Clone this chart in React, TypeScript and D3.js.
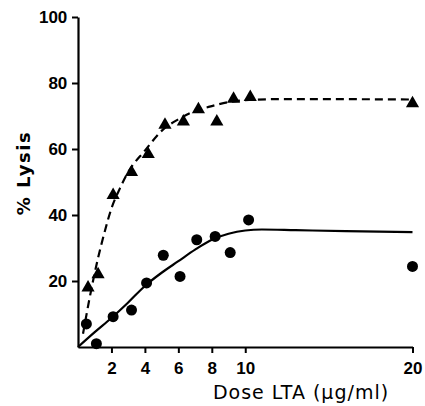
import React, { useEffect, useRef } from 'react';
import * as d3 from 'd3';

// measured points (dose in µg/ml, % lysis)
const triDose = [0.6, 1.2, 2.1, 3.2, 4.2, 5.2, 6.3, 7.2, 8.3, 9.3, 10.3, 20];
const triLysis = [18, 22, 46, 53, 58.4, 67.3, 68.3, 72, 68.3, 75.2, 75.7, 73.8];

const dotDose = [0.5, 1.1, 2.1, 3.2, 4.1, 5.1, 6.1, 7.1, 8.2, 9.1, 10.2, 20];
const dotLysis = [7, 1, 9.2, 11.2, 19.4, 27.8, 21.4, 32.5, 33.5, 28.6, 38.5, 24.4];

// fitted curves
const dashDose = [0.3, 0.7, 1.2, 1.6, 2, 2.5, 3, 4, 5, 6, 7, 8, 9, 10, 12, 15, 20];
const dashLysis = [4, 15, 27, 35, 42, 48, 53, 59.5, 65.5, 69, 71.5, 73, 74.2, 74.8, 75.1, 75.1, 75];

const solidDose = [0, 1, 2, 3, 4, 5, 6, 7, 8, 9, 10, 11, 13, 16, 20];
const solidLysis = [0, 4.5, 8.8, 13.5, 18.5, 22.5, 26, 29.5, 32.5, 34.3, 35.3, 35.6, 35.4, 35.1, 34.8];

const xTicks = [2, 4, 6, 8, 10, 20];
const yTicks = [20, 40, 60, 80, 100];

const W = 425;
const H = 406;
const FONT = 'Liberation Sans, Arial, sans-serif';
const TITLE_FONT = 'DejaVu Sans, sans-serif';

const App: React.FC = () => {
  const svgRef = useRef<SVGSVGElement>(null);

  useEffect(() => {
    if (!svgRef.current) return;
    const svg = d3.select(svgRef.current);
    svg.selectAll('*').remove();

    const x = d3.scaleLinear().domain([0, 20]).range([78, 412.5]);
    const y = d3.scaleLinear().domain([0, 100]).range([347, 17]);

    // axes
    const xAxis = svg.append('g')
      .attr('transform', `translate(0,${y(0)})`)
      .call(d3.axisBottom(x).tickValues(xTicks).tickSize(6).tickSizeOuter(0).tickFormat(d3.format('d')));
    const yAxis = svg.append('g')
      .attr('transform', `translate(${x(0)},0)`)
      .call(d3.axisLeft(y).tickValues(yTicks).tickSize(6).tickSizeOuter(0).tickFormat(d3.format('d')));

    [xAxis, yAxis].forEach(a => {
      a.select('.domain').attr('stroke', '#000').attr('stroke-width', 2.2);
      a.selectAll('line').attr('stroke', '#000').attr('stroke-width', 2);
      a.selectAll('text')
        .attr('fill', '#000')
        .attr('font-size', '17px')
        .attr('font-weight', 'bold')
        .attr('font-family', FONT);
    });
    xAxis.selectAll('text').attr('dy', '1.05em');
    yAxis.selectAll('text').attr('dx', '-0.1em');

    // curves
    const line = d3.line<[number, number]>()
      .x(d => x(d[0]))
      .y(d => y(d[1]))
      .curve(d3.curveMonotoneX);

    svg.append('path')
      .attr('d', line(dashDose.map((d, i) => [d, dashLysis[i]]))!)
      .attr('fill', 'none')
      .attr('stroke', '#000')
      .attr('stroke-width', 2.2)
      .attr('stroke-dasharray', '8,5');

    svg.append('path')
      .attr('d', line(solidDose.map((d, i) => [d, solidLysis[i]]))!)
      .attr('fill', 'none')
      .attr('stroke', '#000')
      .attr('stroke-width', 2.2);

    // triangles
    const tri = d3.symbol().type(d3.symbolTriangle).size(75);
    svg.append('g').selectAll('path')
      .data(triDose.map((d, i) => [d, triLysis[i]]))
      .enter()
      .append('path')
      .attr('d', tri()!)
      .attr('transform', d => `translate(${x(d[0])},${y(d[1])})`)
      .attr('fill', '#000');

    // circles
    svg.append('g').selectAll('circle')
      .data(dotDose.map((d, i) => [d, dotLysis[i]]))
      .enter()
      .append('circle')
      .attr('cx', d => x(d[0]))
      .attr('cy', d => y(d[1]))
      .attr('r', 5.5)
      .attr('fill', '#000');

    // titles
    svg.append('text')
      .attr('x', 301)
      .attr('y', 399)
      .attr('text-anchor', 'middle')
      .attr('font-size', '19px')
      .attr('letter-spacing', '1px')
      .attr('font-family', TITLE_FONT)
      .attr('fill', '#000')
      .text('Dose LTA  (\u03bcg/ml)');

    svg.append('text')
      .attr('transform', 'translate(30,173) rotate(-90)')
      .attr('text-anchor', 'middle')
      .attr('font-size', '18px')
      .attr('letter-spacing', '1.5px')
      .attr('font-weight', 'bold')
      .attr('font-family', TITLE_FONT)
      .attr('fill', '#000')
      .text('% Lysis');
  }, []);

  return (
    <div style={{ position: 'absolute', left: 0, top: 0, width: W, height: H, background: '#fff' }}>
      <svg ref={svgRef} width={W} height={H} />
    </div>
  );
};

export default App;
